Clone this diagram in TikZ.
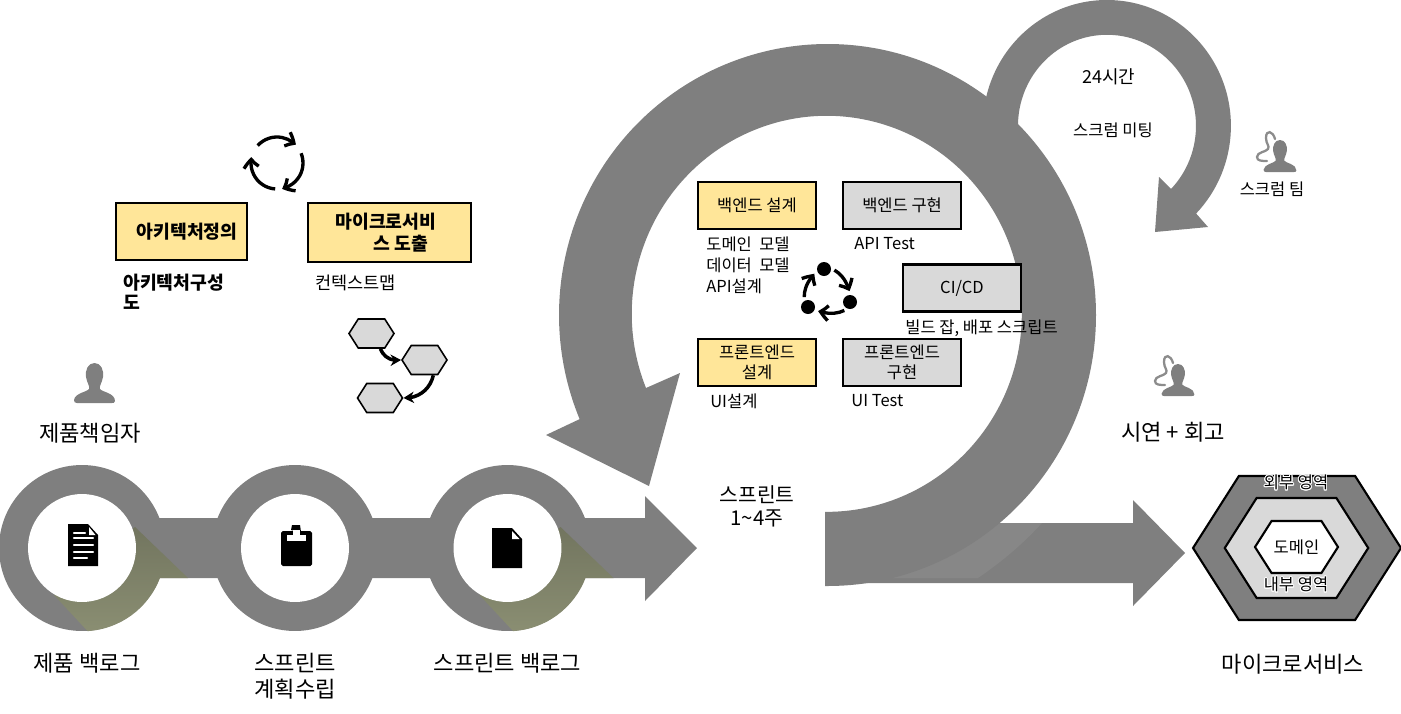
\documentclass[tikz,border=0pt]{standalone}
\usepackage{fontspec}
\setmainfont{Noto Sans CJK KR}
\setsansfont{Noto Sans CJK KR}
\usepackage{contour}
\contourlength{0.5pt}
\usetikzlibrary{shapes.symbols, arrows.meta, bending, positioning}
\definecolor{cBand}{HTML}{7F7F7F}
\definecolor{cSheen}{HTML}{878787}
\definecolor{cYellow}{HTML}{FFE699}
\definecolor{cLight}{HTML}{D9D9D9}
\definecolor{cOliveA}{HTML}{72755F}
\definecolor{cOliveB}{HTML}{8A8E72}
\definecolor{cWire}{HTML}{8C8C8C}
\tikzset{
  box/.style={
    rectangle, draw=black, line width=1.2pt, fill=#1,
    minimum width=2.36cm, minimum height=0.94cm, inner sep=0pt,
    align=center, font=\fontsize{9.4}{11.4}\selectfont
  },
  ybox/.style={box=cYellow},
  gbox/.style={box=cLight},
  hexa/.style={
    signal, signal to=east and west, signal from=nowhere, signal pointer angle=#1,
    draw=black, inner sep=0pt, align=center
  },
  hexa/.default=115,
  minihex/.style={hexa, fill=cLight, line width=0.9pt, minimum width=0.9cm, minimum height=0.58cm},
  bigtext/.style={font=\fontsize{12.6}{14.8}\selectfont, align=center, inner sep=0pt},
  smalltext/.style={font=\fontsize{9.4}{11.9}\selectfont, align=left, inner sep=0pt},
  boldtext/.style={font=\fontsize{10.4}{11.4}\selectfont\bfseries, align=left, inner sep=0pt},
  cyc/.style={-{Straight Barb[bend,length=4.5pt,width=8.5pt]}, line width=1.9pt, black},
  dotarrow/.style={cyc, shorten <=2pt, shorten >=2pt},
  hexarrow/.style={-{Stealth[length=6pt,width=6.5pt]}, line width=2pt, black},
  dotnode/.style={circle, fill=black, minimum size=0.28cm, inner sep=0pt},
  person/.pic={
    \fill[cBand] (0,0) .. controls (6.5,0) and (9.5,7) .. (8.5,14)
      .. controls (7.5,20) and (4.5,23) .. (5.5,26)
      .. controls (7.5,29) and (20.5,30) .. (20.5,38)
      .. controls (20.5,40) and (18.5,40) .. (17.5,40) -- (-17.5,40)
      .. controls (-19.5,40) and (-20.5,39) .. (-20.5,37)
      .. controls (-19.5,30) and (-7.5,29) .. (-5.5,26)
      .. controls (-4.5,23) and (-7.5,20) .. (-8.5,14)
      .. controls (-9.5,7) and (-6.5,0) .. (0,0) -- cycle;
  },
  wired/.pic={
    \pic[scale=0.8] at (0,0) {person};
    \draw[cWire, line width=1.3pt, line cap=round] (-5,-1) .. controls (-7,-9) and (-14,-11) .. (-14,-2)
      .. controls (-14,4) and (-10,6) .. (-12,9)
      .. controls (-14,12) and (-23,12) .. (-23,17)
      .. controls (-23,21) and (-18,21) .. (-13,21);
  },
}

\begin{document}
\begin{tikzpicture}[x=0.02cm, y=-0.02cm]
  \useasboundingbox (0,0) rectangle (1401,714);

  % Backlog chain
  \fill[cBand] (82,518) -- (645,518) -- (645,496) -- (697,548) -- (645,601)
    -- (645,578) -- (82,578) -- cycle;
  \foreach \cx/\nm in {82/ringA, 295/ringB, 507.5/ringC}
    \node[circle, fill=cBand, minimum size=3.32cm, inner sep=0pt] (\nm) at (\cx,548) {};
  \foreach \sx in {0,425.5}
    \shade[top color=cOliveA, bottom color=cOliveB, shift={(\sx,0)}]
      (135,527) -- (188,578) -- (160,578) arc[start angle=21, end angle=86.5, radius=83]
      -- (54,595) -- cycle;
  \foreach \nm in {ringA, ringB, ringC}
    \node[circle, fill=white, minimum size=2.16cm, inner sep=0pt] at (\nm) {};

  % Icons in the rings
  \fill[black] (68,524) -- (88,524) -- (98,535) -- (98,566) -- (68,566) -- cycle;
  \fill[white] (89,527) -- (95.5,535) -- (89,535) -- cycle;
  \foreach \ly/\lx in {533/85, 538/93, 545/93, 552/93, 558/87}
    \draw[white, line width=1.4pt, line cap=round] (74,\ly) -- (\lx,\ly);
  \fill[black, rounded corners=1pt] (281,531) rectangle (312,566);
  \fill[black] (291,530) -- (292,525) -- (300,525) -- (301,532) -- cycle;
  \fill[white] (287,535) rectangle (306,541);
  \fill[white] (293,530) rectangle (300,535);
  \fill[black] (492,528) -- (512,528) -- (522,539) -- (522,568) -- (492,568) -- cycle;
  \fill[white] (512,531) -- (519.5,539) -- (512,539) -- cycle;

  % Chain labels
  \node[bigtext, below=0.44cm of ringA, xshift=0.1cm] (lblA) {제품 백로그};
  \node[bigtext, below=0.44cm of ringB] (lblB) {스프린트\\계획수립};
  \node[bigtext, below=0.44cm of ringC] (lblC) {스프린트 백로그};

  % Release arrow
  \fill[cBand] (860,523) -- (1133,523) -- (1133,500) -- (1185,553) -- (1133,606)
    -- (1133,583) -- (860,583) -- cycle;
  \fill[cSheen] (1000,523) -- (1042,523) .. controls (1022,545) and (1000,563) .. (978,578)
    -- (890,578) -- cycle;

  % Sprint loop
  \fill[cBand] (825,586) -- (827.5,586)
    arc[start angle=90, end angle=-202.6, x radius=268.5, y radius=271]
    -- (546,435) -- (649,486) -- (680,373) -- (646,388)
    arc[start angle=-202, end angle=90, x radius=195, y radius=198]
    -- (825,512) -- cycle;

  % Daily loop
  \fill[cBand] (983,121.6)
    arc[start angle=-178, end angle=44, x radius=124, y radius=126]
    -- (1208,227) -- (1155,232) -- (1159,177) -- (1171,189)
    arc[start angle=44, end angle=-190, x radius=89, y radius=91]
    -- cycle;

  % Sprint tasks
  \node[ybox] (beDesign) at (757,205.5) {백엔드 설계};
  \node[gbox, right=0.5cm of beDesign] (beImpl) {백엔드 구현};
  \node[gbox] (cicd) at (962,288) {\raisebox{-1pt}{CI/CD}};
  \node[ybox, below=2.16cm of beDesign] (feDesign) {프론트엔드\\설계};
  \node[gbox, right=0.5cm of feDesign] (feImpl) {프론트엔드\\구현};

  \node[smalltext, below right=0.13cm and 0.18cm of beDesign.south west] (beDesignNote) {도메인\ \ 모델\\데이터\ \ 모델\\API설계};
  \node[smalltext, below right=0.13cm and 0.24cm of beImpl.south west] (beImplNote) {API Test};
  \node[smalltext, below right=0.13cm and 0.06cm of cicd.south west] (cicdNote) {빌드 잡, 배포 스크립트};
  \node[smalltext, below right=0.13cm and 0.26cm of feDesign.south west] (feDesignNote) {UI설계};
  \node[smalltext, below right=0.13cm and 0.18cm of feImpl.south west] (feImplNote) {UI Test};

  % Dot cycle
  \node[dotnode] (dotA) at (824,269) {};
  \node[dotnode] (dotB) at (850,302) {};
  \node[dotnode] (dotC) at (808,307) {};
  \draw[dotarrow] (dotA.5) to[bend left=25] (dotB.north);
  \draw[dotarrow] (dotB.250) to[bend left=25] (dotC.-20);
  \draw[dotarrow] (dotC.120) to[bend left=25] (dotA.200);

  % Architecture boxes
  \node[box=cYellow, minimum width=2.62cm, minimum height=1.14cm,
        font=\fontsize{10.4}{11.4}\selectfont\bfseries] (archBox) at (181.5,231.5) {\hspace*{6.3pt}아키텍처정의};
  \node[box=cYellow, minimum width=3.26cm, minimum height=1.18cm, align=left,
        font=\fontsize{10.4}{12.6}\selectfont\bfseries] (msaBox) at (389.5,232.5) {마이크로서비\hspace*{4pt}\\\hspace*{21.6pt}스 도출};
  \node[boldtext, below right=0.26cm and 0.16cm of archBox.south west] (archNote) {아키텍처구성\\도};
  \node[smalltext, font=\fontsize{10}{11.9}\selectfont, below right=0.24cm and 0.16cm of msaBox.south west] (msaNote) {컨텍스트맵};

  % Loop over the two boxes
  \coordinate (cycMid) at (277,163);
  \foreach \ta/\tb in {-138/-44, -22/79, 94/193}
    \draw[cyc] (cycMid) ++(\ta:26) arc[start angle=\ta, end angle=\tb, radius=26];

  % Context map
  \node[minihex] (hexA) at (371.5,333.5) {};
  \node[minihex] (hexB) at (424.5,360) {};
  \node[minihex] (hexC) at (380,398) {};
  \draw[hexarrow] (hexA.-60) to[bend right=40] (hexB.west);
  \draw[hexarrow] (hexB.-60) to[bend left=40] (hexC.east);

  % Roles
  \pic at (94.5,363) {person};
  \node[bigtext] (ownerLbl) at (90,433) {제품책임자};
  \pic at (1280,140) {wired};
  \node[smalltext] (teamLbl) at (1272,189) {스크럼 팀};
  \pic at (1178,364) {wired};
  \node[bigtext] (reviewLbl) at (1173,432) {시연 + 회고};
  \node[smalltext, font=\fontsize{10.2}{11.9}\selectfont] (dayLbl) at (1109,77) {24시간};
  \node[smalltext] (standupLbl) at (1113,130) {스크럼 미팅};
  \node[bigtext, font=\fontsize{11.6}{13}\selectfont] (sprintLbl) at (757,506.5) {스프린트\\1\textasciitilde 4주};

  % Hexagonal service
  \node[hexa, fill=cBand, line width=1.2pt, minimum width=4.16cm, minimum height=2.88cm] (hexOut) at (1297,548) {};
  \node[hexa, fill=cLight, line width=1.2pt, minimum width=2.87cm, minimum height=2cm] (hexMid) at (1296.5,548) {};
  \node[hexa, fill=white, line width=1.2pt, minimum width=1.66cm, minimum height=1.04cm,
        font=\fontsize{9.4}{11.4}\selectfont] (hexIn) at (1296.5,547) {도메인};
  \node[font=\fontsize{9.4}{11.4}\selectfont, inner sep=0pt] (hexOutLbl) at (1296,483) {\contour{white}{외부 영역}};
  \node[font=\fontsize{9.4}{11.4}\selectfont, inner sep=0pt] (hexMidLbl) at (1296,585) {\contour{white}{내부 영역}};
  \node[bigtext] (msaLbl) at (1293,664) {마이크로서비스};

\end{tikzpicture}
\end{document}
